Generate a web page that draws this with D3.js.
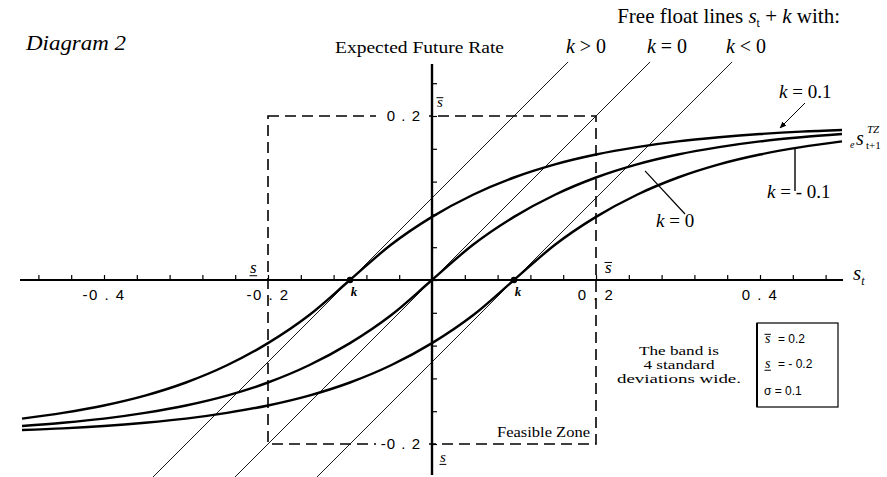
<!DOCTYPE html>
<html><head><meta charset="utf-8">
<script src="https://cdn.jsdelivr.net/npm/d3@7"></script>
<style>body{margin:0;background:#fff}svg{display:block}</style>
</head><body>
<script>
const sGrid = [-0.5,-0.45,-0.4,-0.35,-0.3,-0.25,-0.2,-0.15,-0.1,-0.05,0,0.05,0.1,0.15,0.2,0.25,0.3,0.35,0.4,0.45,0.5];
// Expected future rate inside the target zone, one series per fundamental k
const expectedKPos  = [-0.169,-0.162,-0.153,-0.141,-0.125,-0.104,-0.077,-0.043,0,0.043,0.077,0.104,0.125,0.141,0.153,0.162,0.169,0.174,0.178,0.181,0.183];
const expectedKZero = [-0.178,-0.174,-0.169,-0.162,-0.153,-0.141,-0.125,-0.104,-0.077,-0.043,0,0.043,0.077,0.104,0.125,0.141,0.153,0.162,0.169,0.174,0.178];
const expectedKNeg  = [-0.183,-0.181,-0.178,-0.174,-0.169,-0.162,-0.153,-0.141,-0.125,-0.104,-0.077,-0.043,0,0.043,0.077,0.104,0.125,0.141,0.153,0.162,0.169];
// Free float lines s_t + k
const freeFloatK = [0.1, 0, -0.1];
const freeFloatLabels = ["k > 0", "k = 0", "k < 0"];
// Axis labels
const xTickValues = [-0.4, -0.2, 0.2, 0.4];
const xTickLabels = ["-0 . 4", "-0 . 2", "0 . 2", "0 . 4"];
const yTickValues = [0.2, -0.2];
const yTickLabels = ["0 . 2", "-0 . 2"];
// Band parameters
const bandUpper = 0.2, bandLower = -0.2, sigma = 0.1;

const W = 887, H = 477;
const SERIF = "'Liberation Serif', 'Times New Roman', serif";
const SANS = "'Liberation Sans', Arial, sans-serif";

const x = d3.scaleLinear().domain([-0.5, 0.5]).range([22, 842]);
const y = d3.scaleLinear().domain([-0.2, 0.2]).range([444, 116]);

const svg = d3.select("body").append("svg").attr("width", W).attr("height", H);
svg.append("rect").attr("width", W).attr("height", H).attr("fill", "#fff");

// s with an over- or under-bar
function sBar(g, px, py, size, bar) {
  g.append("text").attr("x", px).attr("y", py)
    .attr("font-family", SERIF).attr("font-style", "italic").attr("font-size", size).text("s");
  const w = size * 0.42;
  const by = bar === "over" ? py - size * 0.62 : py + size * 0.16;
  g.append("line").attr("x1", px - 0.5).attr("x2", px + w).attr("y1", by).attr("y2", by)
    .attr("stroke", "#000").attr("stroke-width", 1);
}

// Feasible zone (dashed band)
svg.append("rect")
  .attr("x", x(bandLower)).attr("y", y(bandUpper))
  .attr("width", x(bandUpper) - x(bandLower)).attr("height", y(bandLower) - y(bandUpper))
  .attr("fill", "none").attr("stroke", "#000").attr("stroke-width", 1.6)
  .attr("stroke-dasharray", "11,6");

// Free float lines
const yLineTop = 0.266, yLineBottom = -0.25;
svg.append("g").selectAll("line").data(freeFloatK).join("line")
  .attr("x1", k => x(yLineBottom - k)).attr("y1", y(yLineBottom))
  .attr("x2", k => x(yLineTop - k)).attr("y2", y(yLineTop))
  .attr("stroke", "#000").attr("stroke-width", 0.9);

// Axes
const xTicks = d3.range(-12, 13).map(i => i * 0.04);
const yTicks = d3.range(-5, 7).map(i => i * 0.04);
const xAxis = svg.append("g").attr("transform", `translate(0,${y(0)})`)
  .call(d3.axisTop(x).tickValues(xTicks).tickSize(5).tickFormat(""));
xAxis.select(".domain").remove();
xAxis.selectAll("line").attr("stroke-width", 1.2);
svg.append("line").attr("x1", 20).attr("x2", 843).attr("y1", y(0)).attr("y2", y(0))
  .attr("stroke", "#000").attr("stroke-width", 2);

const yAxis = svg.append("g").attr("transform", `translate(${x(0)},0)`)
  .call(d3.axisRight(y).tickValues(yTicks).tickSize(5).tickFormat(""));
yAxis.select(".domain").remove();
yAxis.selectAll("line").attr("stroke-width", 1.2);
svg.append("line").attr("x1", x(0)).attr("x2", x(0)).attr("y1", 64).attr("y2", 475)
  .attr("stroke", "#000").attr("stroke-width", 2.4);

// x tick labels
svg.append("g").selectAll("text").data(xTickValues).join("text")
  .attr("x", d => x(d)).attr("y", y(0) + 20)
  .attr("text-anchor", "middle").attr("font-family", SANS).attr("font-size", 15)
  .attr("letter-spacing", 1.5)
  .text((d, i) => xTickLabels[i]);

// y tick labels, on a white ground over the dashed band edge
const yLab = svg.append("g");
yLab.selectAll("rect").data(yTickValues).join("rect")
  .attr("x", x(0) - 56).attr("y", d => y(d) - 9).attr("width", 53).attr("height", 18).attr("fill", "#fff");
yLab.selectAll("text").data(yTickValues).join("text")
  .attr("x", x(0) - 11).attr("y", d => y(d) + 5)
  .attr("text-anchor", "end").attr("font-family", SANS).attr("font-size", 15)
  .attr("letter-spacing", 1)
  .text((d, i) => yTickLabels[i]);

// Expected future rate curves
const line = d3.line().x((d, i) => x(sGrid[i])).y(d => y(d)).curve(d3.curveMonotoneX);
svg.append("g").selectAll("path").data([expectedKPos, expectedKZero, expectedKNeg]).join("path")
  .attr("d", line).attr("fill", "none").attr("stroke", "#000").attr("stroke-width", 2.4);

// Points where the curves cross the axis (s_t = -k)
const crossK = freeFloatK.filter(k => k !== 0);
svg.append("g").selectAll("circle").data(crossK).join("circle")
  .attr("cx", k => x(-k)).attr("cy", y(0)).attr("r", 3.2).attr("fill", "#000");
svg.append("g").selectAll("text").data(crossK).join("text")
  .attr("x", k => x(-k) + 4).attr("y", y(0) + 16).attr("text-anchor", "middle")
  .attr("font-family", SERIF).attr("font-style", "italic").attr("font-weight", "bold").attr("font-size", 13)
  .text("k");

// Band markers
sBar(svg, 250, 273, 17, "under");
sBar(svg, 605, 273, 17, "over");
sBar(svg, 437, 107, 15, "over");
sBar(svg, 440, 462, 15, "under");

// Axis name s_t
const st = svg.append("text").attr("x", 853).attr("y", 280).attr("font-family", SERIF).attr("font-size", 21).attr("font-style", "italic");
st.append("tspan").text("s");
st.append("tspan").attr("font-size", 12).attr("dy", 5).text("t");

// Titles
svg.append("text").attr("x", 26).attr("y", 50).attr("font-family", SERIF).attr("font-style", "italic")
  .attr("font-size", 22).attr("textLength", 100).attr("lengthAdjust", "spacingAndGlyphs").text("Diagram 2");
svg.append("text").attr("x", 335).attr("y", 53).attr("font-family", SERIF)
  .attr("font-size", 17).attr("textLength", 169).attr("lengthAdjust", "spacingAndGlyphs")
  .text("Expected Future Rate");

const ff = svg.append("text").attr("x", 840).attr("y", 23).attr("text-anchor", "end")
  .attr("font-family", SERIF).attr("font-size", 21);
ff.append("tspan").text("Free float lines  ");
ff.append("tspan").attr("font-style", "italic").text("s");
ff.append("tspan").attr("font-size", 12).attr("dy", 4).text("t");
ff.append("tspan").attr("dy", -4).text(" + ");
ff.append("tspan").attr("font-style", "italic").text("k");
ff.append("tspan").text("  with:");

const ffCenters = [586, 667, 746];
svg.append("g").selectAll("text").data(freeFloatLabels).join("text")
  .attr("x", (d, i) => ffCenters[i]).attr("y", 53).attr("text-anchor", "middle")
  .attr("font-family", SERIF).attr("font-size", 20)
  .each(function (d) {
    const t = d3.select(this);
    t.append("tspan").attr("font-style", "italic").text(d.slice(0, 1));
    t.append("tspan").text(d.slice(1));
  });

// Curve labels
function kLabel(px, py, rest) {
  const t = svg.append("text").attr("x", px).attr("y", py).attr("font-family", SERIF).attr("font-size", 19);
  t.append("tspan").attr("font-style", "italic").text("k");
  t.append("tspan").text(rest);
}
kLabel(779, 98, "  = 0.1");
kLabel(767, 198, "  = - 0.1");
kLabel(656, 227, "  = 0");

svg.append("defs").append("marker").attr("id", "arr").attr("viewBox", "0 0 10 10")
  .attr("refX", 9).attr("refY", 5).attr("markerWidth", 7).attr("markerHeight", 7).attr("orient", "auto")
  .append("path").attr("d", "M0,1 L10,5 L0,9 Z").attr("fill", "#000");
svg.append("line").attr("x1", 805).attr("y1", 103).attr("x2", 780).attr("y2", 128)
  .attr("stroke", "#000").attr("stroke-width", 1).attr("marker-end", "url(#arr)");
svg.append("line").attr("x1", 795).attr("y1", y(0.162)).attr("x2", 795).attr("y2", 191)
  .attr("stroke", "#000").attr("stroke-width", 1.4);
svg.append("line").attr("x1", 645).attr("y1", y(0.133)).attr("x2", 685).attr("y2", 214)
  .attr("stroke", "#000").attr("stroke-width", 1.2);

// e s^TZ_{t+1}
svg.append("text").attr("x", 850).attr("y", 148).attr("font-family", SERIF).attr("font-size", 10).attr("font-style", "italic").text("e");
svg.append("text").attr("x", 856).attr("y", 145).attr("font-family", SERIF).attr("font-size", 20).attr("font-style", "italic").text("s");
svg.append("text").attr("x", 867).attr("y", 133).attr("font-family", SERIF).attr("font-size", 11).attr("font-style", "italic").text("TZ");
svg.append("text").attr("x", 866).attr("y", 149).attr("font-family", SERIF).attr("font-size", 11).text("t+1");

// Feasible zone label
svg.append("text").attr("x", 590).attr("y", 437).attr("text-anchor", "end").attr("font-family", SERIF)
  .attr("font-size", 14).attr("textLength", 93).attr("lengthAdjust", "spacingAndGlyphs").text("Feasible Zone");

// Band description
const descLines = ["The band is", "4 standard", "deviations wide."];
const descWidths = [80, 71, 124];
svg.append("g").selectAll("text").data(descLines).join("text")
  .attr("x", 679).attr("y", (d, i) => 355 + i * 14).attr("text-anchor", "middle")
  .attr("font-family", SERIF).attr("font-size", 12.5)
  .attr("textLength", (d, i) => descWidths[i]).attr("lengthAdjust", "spacingAndGlyphs")
  .text(d => d);

// Parameter box
svg.append("rect").attr("x", 757).attr("y", 323).attr("width", 81).attr("height", 84)
  .attr("fill", "none").attr("stroke", "#000").attr("stroke-width", 1.2);
svg.append("line").attr("x1", 757).attr("x2", 757).attr("y1", 323).attr("y2", 407)
  .attr("stroke", "#000").attr("stroke-width", 2);
const fmt = v => (v < 0 ? "- " : "") + Math.abs(v).toFixed(1);
sBar(svg, 765, 343, 14, "over");
svg.append("text").attr("x", 778).attr("y", 343).attr("font-family", SANS).attr("font-size", 12)
  .text("= " + fmt(bandUpper));
sBar(svg, 765, 368, 14, "under");
svg.append("text").attr("x", 778).attr("y", 368).attr("font-family", SANS).attr("font-size", 12)
  .text("= " + fmt(bandLower));
svg.append("text").attr("x", 764).attr("y", 395).attr("font-family", SANS).attr("font-size", 12)
  .text("σ = " + fmt(sigma));
</script>
</body></html>
